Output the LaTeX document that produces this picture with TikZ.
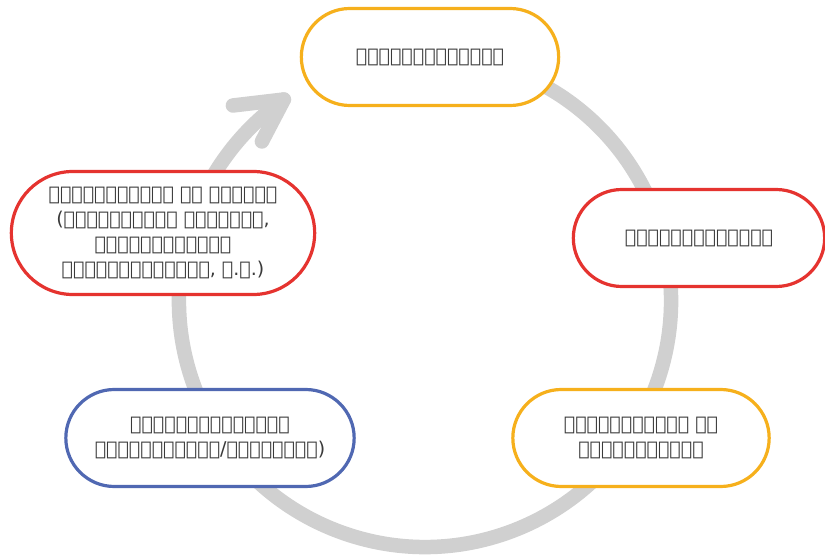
\documentclass[tikz,border=0pt]{standalone}
\usepackage{fontspec}
\newfontfamily\geofont{DejaVu Sans}
\usetikzlibrary{shapes.misc}

\definecolor{ringgray}{HTML}{D0D0D0}
\definecolor{boxorange}{HTML}{F6B01C}
\definecolor{boxred}{HTML}{E5332F}
\definecolor{boxblue}{HTML}{5068B2}
\definecolor{textgray}{HTML}{3A3A3A}

\begin{document}
\begin{tikzpicture}[x=1pt,y=1pt,
    ring/.style={ringgray, line width=14.5pt, line cap=round, line join=round},
    stake/.style={rounded rectangle, draw, line width=3.2pt, fill=white,
        minimum height=97pt, align=center, text=textgray,
        font=\geofont\fontsize{19}{25}\selectfont}]
    \useasboundingbox (0,0) rectangle (825,555);

    % Grey ring, open chevron at its end
    \draw[ring] (425,254) ++(70:246) arc[start angle=70, end angle=-235, radius=246]
        coordinate (tip);
    \draw[ring] (tip) ++(-51,-6) -- (tip) -- ++(-22,-42);

    % Stakeholder boxes
    \node[stake, draw=boxorange, minimum width=264pt] (users) at (430,498)
        {ᲛᲝᲛᲮᲛᲐᲠᲔᲑᲚᲔᲑᲘ};
    \node[stake, draw=boxred, minimum width=258pt] (staff) at (699,317)
        {ᲗᲐᲜᲐᲛᲨᲠᲝᲛᲚᲔᲑᲘ};
    \node[stake, draw=boxorange, minimum width=263pt] (investors) at (641,117)
        {ᲐᲥᲪᲘᲝᲜᲔᲠᲔᲑᲘ ᲓᲐ\\ᲘᲜᲕᲔᲡᲢᲝᲠᲔᲑᲘ};
    \node[stake, draw=boxblue, minimum width=295pt] (regulators) at (210,117)
        {ᲛᲐᲠᲔᲒᲣᲚᲘᲠᲔᲑᲔᲚᲘ\\ᲘᲜᲡᲢᲘᲢᲣᲢᲔᲑᲘ/ᲛᲗᲐᲕᲠᲝᲑᲐ)};
    \node[stake, draw=boxred, minimum width=310pt, minimum height=123pt] (society) at (163,322)
        {ᲡᲐᲖᲝᲒᲐᲓᲝᲔᲑᲐ ᲓᲐ ᲒᲐᲠᲔᲛᲝ\\(ᲡᲐᲛᲝᲥᲐᲚᲐᲥᲝ ᲡᲔᲥᲢᲝᲠᲘ,\\ᲡᲐᲔᲠᲗᲐᲨᲝᲠᲘᲡᲝ\\ᲝᲠᲒᲐᲜᲘᲖᲐᲪᲘᲔᲑᲘ, Ა.Შ.)};
\end{tikzpicture}
\end{document}
